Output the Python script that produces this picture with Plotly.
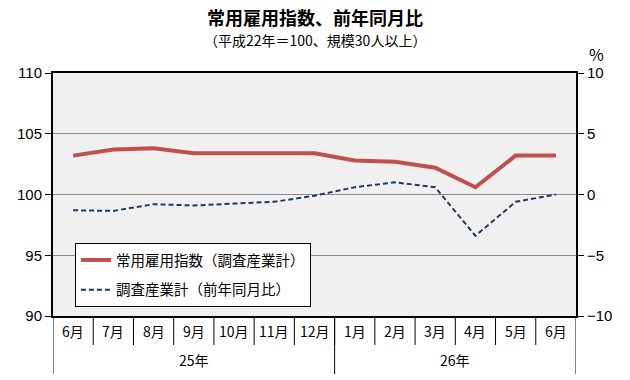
import plotly.graph_objects as go

months = ["6月", "7月", "8月", "9月", "10月", "11月", "12月", "1月", "2月", "3月", "4月", "5月", "6月"]
years = ["25年", "26年"]
year_counts = [7, 6]
employment_index = [103.2, 103.7, 103.8, 103.4, 103.4, 103.4, 103.4, 102.8, 102.7, 102.2, 100.6, 103.2, 103.2]
yoy_change = [-1.3, -1.35, -0.8, -0.9, -0.75, -0.6, -0.1, 0.6, 1.0, 0.6, -3.4, -0.6, 0.0]

name_index = "常用雇用指数（調査産業計）"
name_yoy = "調査産業計（前年同月比）"

FONT = "Noto Sans CJK JP"
xs = list(range(len(months)))

fig = go.Figure()
fig.add_trace(go.Scatter(x=xs, y=employment_index, name=name_index, mode="lines",
                         line=dict(color="#c0504d", width=4), legendgroup="a"))
fig.add_trace(go.Scatter(x=xs, y=yoy_change, name=name_yoy, mode="lines", yaxis="y2",
                         line=dict(color="#1f3a5f", width=2, dash="5px,3px"), legendgroup="b"))

L, R, T, B = 53, 54, 73, 64
plot_h = 380 - T - B
plot_w = 630 - L - R

def py(pix):
    return (380 - B - pix) / plot_h

def px(pix):
    return (pix - L) / plot_w

annotations = []
shapes = []
for i, m in enumerate(months):
    annotations.append(dict(x=i, y=py(331), xref="x", yref="paper", text=m,
                            showarrow=False, yanchor="middle",
                            font=dict(family=FONT, size=14, color="black")))
    if i > 0:
        shapes.append(dict(type="line", xref="x", yref="paper", x0=i - 0.5, x1=i - 0.5,
                           y0=0, y1=py(345), line=dict(color="black", width=1)))
start = 0
bounds = [-0.5]
for y, c in zip(years, year_counts):
    annotations.append(dict(x=start + (c - 1) / 2, y=py(360), xref="x", yref="paper",
                            text=y, showarrow=False, yanchor="middle",
                            font=dict(family=FONT, size=14, color="black")))
    start += c
    bounds.append(start - 0.5)
for b in bounds:
    shapes.append(dict(type="line", xref="x", yref="paper", x0=b, x1=b,
                       y0=0, y1=py(374), line=dict(color="black", width=1)))

annotations.append(dict(x=px(606), y=py(54), xref="paper", yref="paper", text="%", showarrow=False,
                        yanchor="middle", font=dict(family=FONT, size=16, color="black")))
annotations.append(dict(x=px(315), y=py(17), xref="paper", yref="paper", text="<b>常用雇用指数、前年同月比</b>",
                        showarrow=False, yanchor="middle", xanchor="center",
                        font=dict(family=FONT, size=18, color="black")))
annotations.append(dict(x=px(315), y=py(40), xref="paper", yref="paper", text="（平成22年＝100、規模30人以上）",
                        showarrow=False, yanchor="middle", xanchor="center",
                        font=dict(family=FONT, size=14, color="black")))

fig.update_layout(
    width=630, height=380,
    margin=dict(l=L, r=R, t=T, b=B, autoexpand=False),
    paper_bgcolor="white",
    plot_bgcolor="#f0f0f0",
    font=dict(family=FONT, size=14, color="black"),
    xaxis=dict(range=[-0.5, len(months) - 0.5], showticklabels=False, showgrid=False,
               zeroline=False, showline=True, linecolor="black", linewidth=2, mirror=True,
               ticks="", automargin=False),
    yaxis=dict(range=[90, 110], dtick=5, tick0=90, showgrid=True, gridcolor="#8a8a8a",
               gridwidth=1, zeroline=False, showline=True, linecolor="black", linewidth=2,
               mirror=True, ticks="outside", ticklen=6, tickcolor="black", automargin=False,
               tickfont=dict(family="Liberation Sans", size=15)),
    yaxis2=dict(range=[-10, 10], dtick=5, tick0=-10, overlaying="y", side="right",
                showgrid=False, zeroline=False, showline=True, linecolor="black", linewidth=2,
                ticks="outside", ticklen=6, tickcolor="black", automargin=False,
                tickfont=dict(family="Liberation Sans", size=15)),
    legend=dict(x=px(75), y=py(243), xanchor="left", yanchor="top",
                bgcolor="white", bordercolor="black", borderwidth=1,
                font=dict(family=FONT, size=14.5, color="black"),
                traceorder="grouped", tracegroupgap=8, itemwidth=30),
    annotations=annotations,
    shapes=shapes,
)

fig.write_html("out.html", config={"displayModeBar": False},
               post_script="document.body.style.margin='0px';")
